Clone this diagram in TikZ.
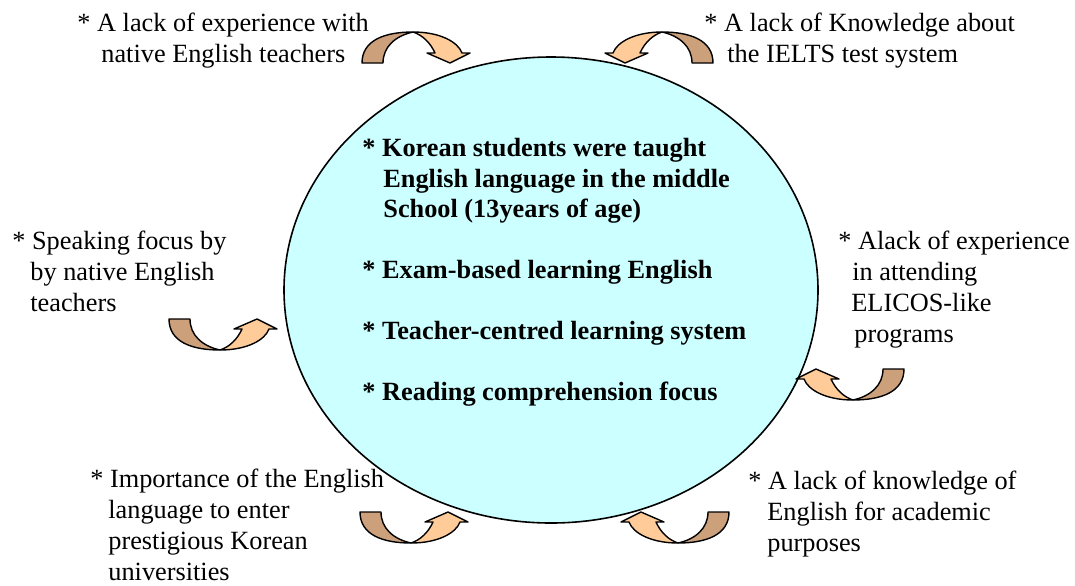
\documentclass[tikz,border=0pt]{standalone}
\usepackage{fontspec}
\setmainfont{Liberation Serif}
\definecolor{hopdark}{RGB}{204,160,122}
\definecolor{hoplight}{RGB}{255,204,153}
\definecolor{bubble}{RGB}{204,255,255}
\begin{document}
\begin{tikzpicture}[x=0.5pt,y=-0.5pt,line join=round,
		txt/.style={anchor=north west,inner sep=0pt,align=left,font=\fontsize{13.15}{15.4}\selectfont}]
	\useasboundingbox (0,0) rectangle (1075,585);
	\tikzset{hop/.pic={
			\filldraw[fill=hopdark,line width=0.7pt] (-51,31) .. controls (-51,8) and (-28,0) .. (0,0)
				.. controls (-18,4) and (-30,15) .. (-30,31) -- cycle;
			\filldraw[fill=hoplight,line width=0.7pt] (0,0) .. controls (27,0) and (45,10) .. (49,21)
				-- (57,21) -- (37,31) -- (14,21) -- (22,21) .. controls (17,10) and (9,3) .. (0,0) -- cycle;
	}}
	% centre
	\draw[fill=bubble,line width=0.8pt] (551,290) ellipse (267 and 233);
	\node[txt,font=\fontsize{13.15}{15.25}\selectfont\bfseries] (core) at (362,138)
		{* Korean students were taught\\ \hspace*{10.5pt}English language in the middle\\ \hspace*{10.5pt}School (13years of age)\\[15.25pt]
		* Exam-based learning English\\[15.25pt] * Teacher-centred learning system\\[15.25pt] * Reading comprehension focus};
	% outer texts
	\node[txt] (native) at (77,13) {* A lack of experience with\\ \hspace*{12pt}native English teachers};
	\node[txt] (ielts) at (704,13) {* A lack of Knowledge about\\ \hspace*{11.5pt}the IELTS test system};
	\node[txt] (speak) at (12,231) {* Speaking focus by\\ \hspace*{9pt}by native English\\ \hspace*{9pt}teachers};
	\node[txt] (elicos) at (838,231) {* Alack of experience\\ \hspace*{7pt}in attending\\ \hspace*{6.5pt}ELICOS-like\\ \hspace*{8pt}programs};
	\node[txt] (entry) at (90,469) {* Importance of the English\\ \hspace*{9pt}language to enter\\ \hspace*{9pt}prestigious Korean\\ \hspace*{9pt}universities};
	\node[txt] (acad) at (748,471) {* A lack of knowledge of\\ \hspace*{9.5pt}English for academic\\ \hspace*{9.5pt}purposes};
	% curved arrows
	\pic at (413,32) {hop};
	\pic[xscale=-1] at (662,32) {hop};
	\pic[yscale=-1] at (220,350) {hop};
	\pic[yscale=-1] at (411,543) {hop};
	\pic[rotate=180] at (853,400) {hop};
	\pic[rotate=180] at (678,543) {hop};
\end{tikzpicture}
\end{document}
